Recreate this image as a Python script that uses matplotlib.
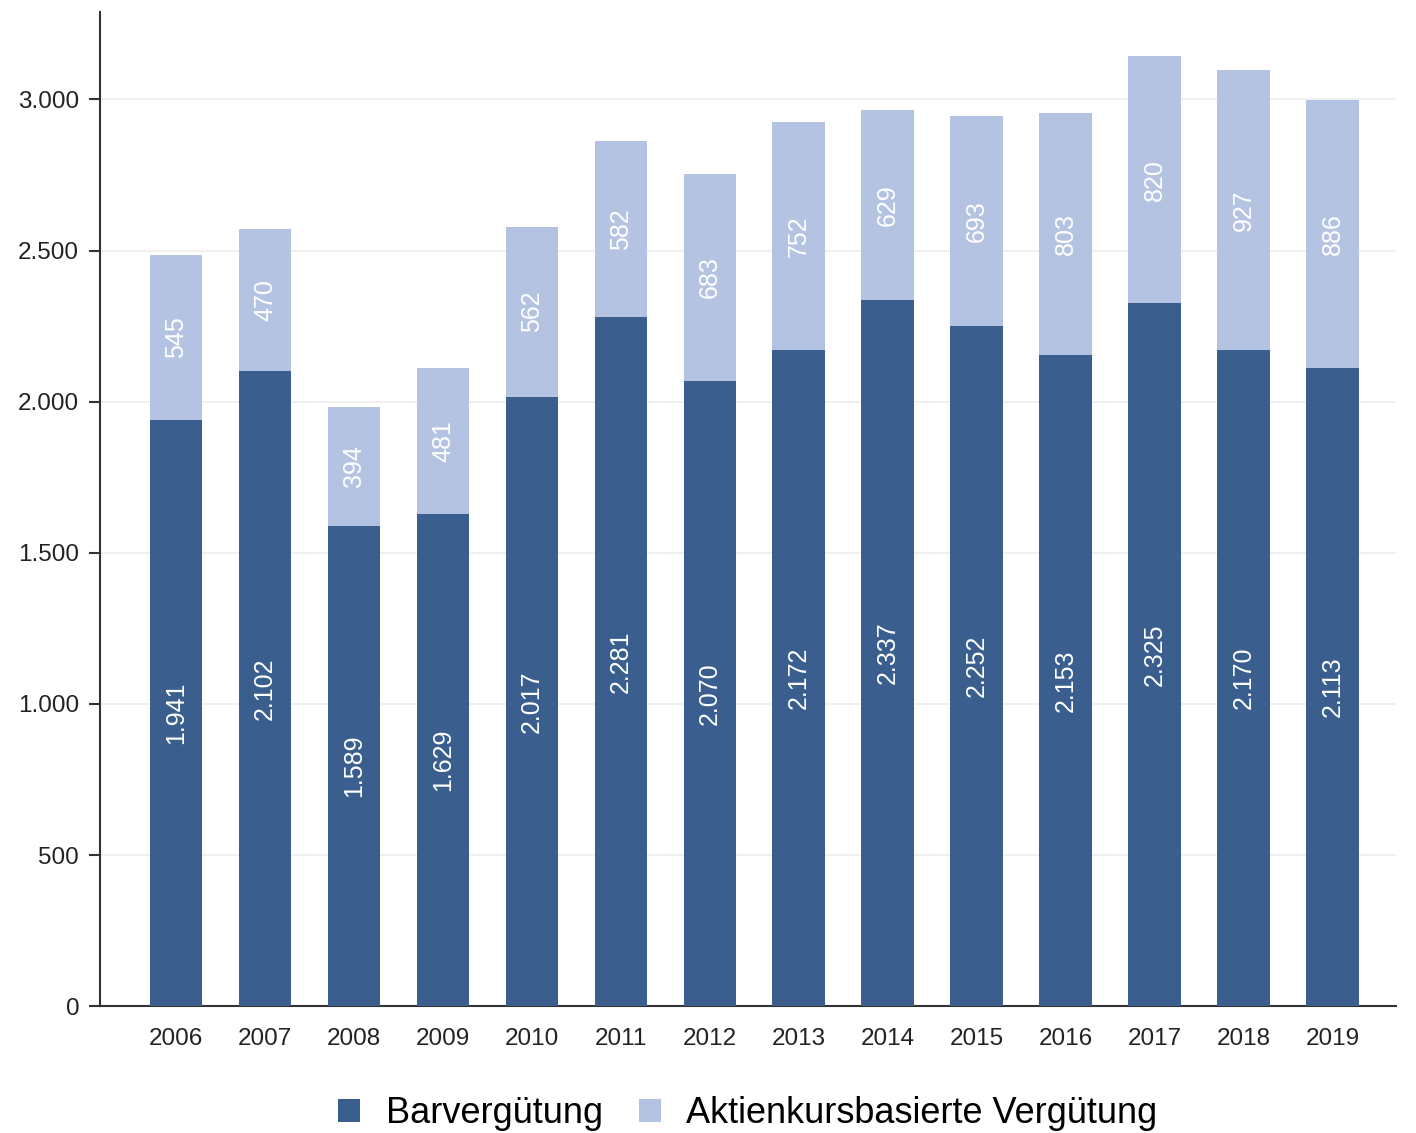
import matplotlib.pyplot as plt
import numpy as np

# 字体设置
plt.rcParams['font.family'] = ['Liberation Sans', 'DejaVu Sans']

# 数据
years = ['2006', '2007', '2008', '2009', '2010', '2011', '2012',
         '2013', '2014', '2015', '2016', '2017', '2018', '2019']
bar = [1941, 2102, 1589, 1629, 2017, 2281, 2070, 2172, 2337, 2252, 2153, 2325, 2170, 2113]
aktien = [545, 470, 394, 481, 562, 582, 683, 752, 629, 693, 803, 820, 927, 886]

c_dark = '#3A5F8F'
c_light = '#B5C3E3'


def fmt(v):
    return f'{v:,}'.replace(',', '.')


fig = plt.figure(figsize=(14.16, 11.33), dpi=100)
ax = fig.add_axes([0.0706, 0.112, 0.915, 0.877])

x = np.arange(len(years))
ax.bar(x, bar, width=0.59, color=c_dark, label='Barvergütung', zorder=3)
ax.bar(x, aktien, width=0.59, bottom=bar, color=c_light,
       label='Aktienkursbasierte Vergütung', zorder=3)

# 柱内标签
for xi, v1, v2 in zip(x, bar, aktien):
    ax.text(xi, v1 / 2, fmt(v1), rotation=90, ha='center', va='center',
            color='white', fontsize=18, zorder=4)
    ax.text(xi, v1 + v2 / 2, fmt(v2), rotation=90, ha='center', va='center',
            color='white', fontsize=18, zorder=4)

ax.set_xlim(-0.855, 13.71)
ax.set_ylim(0, 3288)
ax.set_xticks(x)
ax.set_xticklabels(years, fontsize=17.5, color='#222222')
ax.tick_params(axis='x', length=0, pad=16)
ax.set_yticks(range(0, 3001, 500))
ax.set_yticklabels([fmt(v) for v in range(0, 3001, 500)], fontsize=17.5, color='#222222')
ax.tick_params(axis='y', length=8, width=1.5, color='#333333', pad=7)

ax.yaxis.grid(True, color='#EEEEEE', linewidth=1.2, zorder=0)
for s in ['top', 'right']:
    ax.spines[s].set_visible(False)
ax.spines['left'].set_color('#333333')
ax.spines['left'].set_linewidth(1.5)
ax.spines['bottom'].set_color('#333333')
ax.spines['bottom'].set_linewidth(1.5)

ax.legend(loc='upper center', bbox_to_anchor=(0.5, -0.058), ncol=2, frameon=False,
          fontsize=26, handlelength=0.62, handleheight=0.62, handletextpad=0.7,
          columnspacing=1.0)

fig.savefig('out.png', dpi=100)
